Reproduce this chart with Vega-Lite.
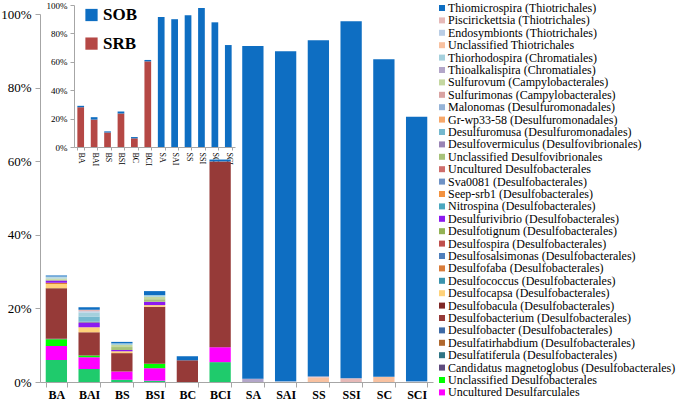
{
  "$schema": "https://vega.github.io/schema/vega-lite/v6.json",
  "width": 393,
  "height": 368,
  "autosize": {"type": "none"},
  "padding": {"left": 40, "top": 14, "right": 252, "bottom": 21},
  "background": "white",
  "config": {
    "font": "Liberation Serif",
    "view": {"stroke": null},
    "axis": {"grid": false, "domainColor": "#A6A6A6", "tickColor": "#A6A6A6", "labelColor": "#000000", "labelFont": "Liberation Serif", "title": null},
    "legend": {"labelFont": "Liberation Serif", "symbolLimit": 50}
  },
  "datasets": {
    "main": [
      {"s": "BA", "t": "Other taxa", "o": 33, "v": 6.0},
      {"s": "BA", "t": "Uncultured Desulfarculales", "o": 32, "v": 3.8},
      {"s": "BA", "t": "Unclassified Desulfobacterales", "o": 31, "v": 1.8},
      {"s": "BA", "t": "Candidatus magnetoglobus (Desulfobacterales)", "o": 30, "v": 0.15},
      {"s": "BA", "t": "Desulfobacterium (Desulfobacterales)", "o": 26, "v": 13.5},
      {"s": "BA", "t": "Desulfobacula (Desulfobacterales)", "o": 25, "v": 0.2},
      {"s": "BA", "t": "Desulfocapsa (Desulfobacterales)", "o": 24, "v": 1.2},
      {"s": "BA", "t": "Desulfofaba (Desulfobacterales)", "o": 22, "v": 0.3},
      {"s": "BA", "t": "Desulfurivibrio (Desulfobacterales)", "o": 18, "v": 0.6},
      {"s": "BA", "t": "Unclassified Desulfovibrionales", "o": 13, "v": 0.3},
      {"s": "BA", "t": "Sulfurovum (Campylobacterales)", "o": 7, "v": 0.3},
      {"s": "BA", "t": "Thiorhodospira (Chromatiales)", "o": 5, "v": 0.3},
      {"s": "BA", "t": "Endosymbionts (Thiotrichales)", "o": 3, "v": 0.2},
      {"s": "BA", "t": "Thiomicrospira (Thiotrichales)", "o": 1, "v": 0.3},
      {"s": "BAI", "t": "Other taxa", "o": 33, "v": 3.5},
      {"s": "BAI", "t": "Uncultured Desulfarculales", "o": 32, "v": 3.2},
      {"s": "BAI", "t": "Unclassified Desulfobacterales", "o": 31, "v": 0.5},
      {"s": "BAI", "t": "Desulfobacterium (Desulfobacterales)", "o": 26, "v": 6.3},
      {"s": "BAI", "t": "Desulfocapsa (Desulfobacterales)", "o": 24, "v": 1.4},
      {"s": "BAI", "t": "Desulfurivibrio (Desulfobacterales)", "o": 18, "v": 1.1},
      {"s": "BAI", "t": "Desulfovermiculus (Desulfovibrionales)", "o": 12, "v": 0.4},
      {"s": "BAI", "t": "Desulfuromusa (Desulfuromonadales)", "o": 11, "v": 1.4},
      {"s": "BAI", "t": "Thiorhodospira (Chromatiales)", "o": 5, "v": 1.1},
      {"s": "BAI", "t": "Endosymbionts (Thiotrichales)", "o": 3, "v": 0.3},
      {"s": "BAI", "t": "Piscirickettsia (Thiotrichales)", "o": 2, "v": 0.4},
      {"s": "BAI", "t": "Thiomicrospira (Thiotrichales)", "o": 1, "v": 0.7},
      {"s": "BS", "t": "Other taxa", "o": 33, "v": 0.6},
      {"s": "BS", "t": "Uncultured Desulfarculales", "o": 32, "v": 2.25},
      {"s": "BS", "t": "Desulfobacterium (Desulfobacterales)", "o": 26, "v": 5.0},
      {"s": "BS", "t": "Desulfocapsa (Desulfobacterales)", "o": 24, "v": 0.5},
      {"s": "BS", "t": "Desulfurivibrio (Desulfobacterales)", "o": 18, "v": 0.35},
      {"s": "BS", "t": "Unclassified Desulfovibrionales", "o": 13, "v": 0.8},
      {"s": "BS", "t": "Sulfurovum (Campylobacterales)", "o": 7, "v": 0.55},
      {"s": "BS", "t": "Thiorhodospira (Chromatiales)", "o": 5, "v": 0.45},
      {"s": "BS", "t": "Thiomicrospira (Thiotrichales)", "o": 1, "v": 0.4},
      {"s": "BSI", "t": "Other taxa", "o": 33, "v": 0.35},
      {"s": "BSI", "t": "Uncultured Desulfarculales", "o": 32, "v": 3.4},
      {"s": "BSI", "t": "Unclassified Desulfobacterales", "o": 31, "v": 1.2},
      {"s": "BSI", "t": "Desulfobacterium (Desulfobacterales)", "o": 26, "v": 15.5},
      {"s": "BSI", "t": "Desulfocapsa (Desulfobacterales)", "o": 24, "v": 0.45},
      {"s": "BSI", "t": "Desulfurivibrio (Desulfobacterales)", "o": 18, "v": 0.9},
      {"s": "BSI", "t": "Unclassified Desulfovibrionales", "o": 13, "v": 0.7},
      {"s": "BSI", "t": "Sulfurovum (Campylobacterales)", "o": 7, "v": 0.65},
      {"s": "BSI", "t": "Thiorhodospira (Chromatiales)", "o": 5, "v": 0.45},
      {"s": "BSI", "t": "Thiomicrospira (Thiotrichales)", "o": 1, "v": 1.1},
      {"s": "BC", "t": "Desulfobacterium (Desulfobacterales)", "o": 26, "v": 5.9},
      {"s": "BC", "t": "Thiomicrospira (Thiotrichales)", "o": 1, "v": 1.1},
      {"s": "BCI", "t": "Other taxa", "o": 33, "v": 5.4},
      {"s": "BCI", "t": "Uncultured Desulfarculales", "o": 32, "v": 4.05},
      {"s": "BCI", "t": "Desulfobacterium (Desulfobacterales)", "o": 26, "v": 50.5},
      {"s": "BCI", "t": "Thiomicrospira (Thiotrichales)", "o": 1, "v": 0.5},
      {"s": "SA", "t": "Thioalkalispira (Chromatiales)", "o": 6, "v": 0.9},
      {"s": "SA", "t": "Thiomicrospira (Thiotrichales)", "o": 1, "v": 90.4},
      {"s": "SAI", "t": "Endosymbionts (Thiotrichales)", "o": 3, "v": 0.2},
      {"s": "SAI", "t": "Thiomicrospira (Thiotrichales)", "o": 1, "v": 89.7},
      {"s": "SS", "t": "Unclassified Thiotrichales", "o": 4, "v": 1.2},
      {"s": "SS", "t": "Piscirickettsia (Thiotrichales)", "o": 2, "v": 0.3},
      {"s": "SS", "t": "Thiomicrospira (Thiotrichales)", "o": 1, "v": 91.4},
      {"s": "SSI", "t": "Piscirickettsia (Thiotrichales)", "o": 2, "v": 1.0},
      {"s": "SSI", "t": "Thiomicrospira (Thiotrichales)", "o": 1, "v": 97.0},
      {"s": "SC", "t": "Unclassified Thiotrichales", "o": 4, "v": 1.4},
      {"s": "SC", "t": "Thiomicrospira (Thiotrichales)", "o": 1, "v": 86.3},
      {"s": "SCI", "t": "Endosymbionts (Thiotrichales)", "o": 3, "v": 0.2},
      {"s": "SCI", "t": "Thiomicrospira (Thiotrichales)", "o": 1, "v": 71.9}
    ],
    "inset": [
      {"s": "BA", "g": "SRB", "v": 28.0},
      {"s": "BA", "g": "SOB", "v": 1.0},
      {"s": "BAI", "g": "SRB", "v": 19.3},
      {"s": "BAI", "g": "SOB", "v": 1.7},
      {"s": "BS", "g": "SRB", "v": 10.2},
      {"s": "BS", "g": "SOB", "v": 0.8},
      {"s": "BSI", "g": "SRB", "v": 23.6},
      {"s": "BSI", "g": "SOB", "v": 1.4},
      {"s": "BC", "g": "SRB", "v": 6.1},
      {"s": "BC", "g": "SOB", "v": 0.9},
      {"s": "BCI", "g": "SRB", "v": 60.3},
      {"s": "BCI", "g": "SOB", "v": 1.0},
      {"s": "SA", "g": "SOB", "v": 91.5},
      {"s": "SAI", "g": "SOB", "v": 90.0},
      {"s": "SS", "g": "SOB", "v": 92.7},
      {"s": "SSI", "g": "SOB", "v": 97.9},
      {"s": "SC", "g": "SOB", "v": 87.8},
      {"s": "SCI", "g": "SOB", "v": 71.8}
    ]
  },
  "layer": [
    {
      "data": {"name": "main"},
      "mark": {"type": "bar"},
      "encoding": {
        "x": {
          "field": "s", "type": "nominal",
          "sort": ["BA", "BAI", "BS", "BSI", "BC", "BCI", "SA", "SAI", "SS", "SSI", "SC", "SCI"],
          "scale": {"paddingInner": 0.35, "paddingOuter": 0.175},
          "axis": {"orient": "bottom", "labelAngle": 0, "labelFontSize": 12, "labelFontWeight": "bold", "tickSize": 5, "tickBand": "extent", "labelPadding": 2}
        },
        "y": {
          "field": "v", "type": "quantitative", "stack": "zero",
          "scale": {"domain": [0, 100]},
          "axis": {"orient": "left", "values": [0, 20, 40, 60, 80, 100], "labelExpr": "datum.value + '%'", "labelFontSize": 13, "tickSize": 5, "labelPadding": 4}
        },
        "order": {"field": "o", "type": "quantitative", "sort": "descending"},
        "color": {
          "field": "t", "type": "nominal",
          "scale": {
            "domain": ["Thiomicrospira (Thiotrichales)", "Piscirickettsia (Thiotrichales)", "Endosymbionts (Thiotrichales)", "Unclassified Thiotrichales", "Thiorhodospira (Chromatiales)", "Thioalkalispira (Chromatiales)", "Sulfurovum (Campylobacterales)", "Sulfurimonas (Campylobacterales)", "Malonomas (Desulfuromonadales)", "Gr-wp33-58 (Desulfuromonadales)", "Desulfuromusa (Desulfuromonadales)", "Desulfovermiculus (Desulfovibrionales)", "Unclassified Desulfovibrionales", "Uncultured Desulfobacterales", "Sva0081 (Desulfobacterales)", "Seep-srb1 (Desulfobacterales)", "Nitrospina (Desulfobacterales)", "Desulfurivibrio (Desulfobacterales)", "Desulfotignum (Desulfobacterales)", "Desulfospira (Desulfobacterales)", "Desulfosalsimonas (Desulfobacterales)", "Desulfofaba (Desulfobacterales)", "Desulfococcus (Desulfobacterales)", "Desulfocapsa (Desulfobacterales)", "Desulfobacula (Desulfobacterales)", "Desulfobacterium (Desulfobacterales)", "Desulfobacter (Desulfobacterales)", "Desulfatirhabdium (Desulfobacterales)", "Desulfatiferula (Desulfobacterales)", "Candidatus magnetoglobus (Desulfobacterales)", "Unclassified Desulfobacterales", "Uncultured Desulfarculales", "Other taxa"],
            "range": ["#0E6EC2", "#E6B9B8", "#B9CDE5", "#F8C1A0", "#A5D0DD", "#B3A6C9", "#C4D7A0", "#D9A3A2", "#95B3D7", "#F7A86A", "#74B8CE", "#9984B5", "#A7C27A", "#CF6E6C", "#6E92C5", "#F3923F", "#4AA7BF", "#8C1AF0", "#93B254", "#C0504D", "#4F7FBC", "#D97C3A", "#3A93AD", "#FFD27A", "#7F2826", "#963A38", "#3D6AA6", "#B0682E", "#2F7585", "#5E4B7E", "#00FF00", "#FF00FF", "#1FCB6C"]
          },
          "legend": {
            "title": null, "orient": "none", "legendX": 396, "legendY": -12, "padding": 0,
            "symbolType": "square", "symbolSize": 36, "symbolStrokeWidth": 0, "symbolLimit": 50,
            "labelFontSize": 12, "labelFont": "Liberation Serif", "labelColor": "#000000", "labelLimit": 400, "labelOffset": 0, "rowPadding": 0.4,
            "values": ["Thiomicrospira (Thiotrichales)", "Piscirickettsia (Thiotrichales)", "Endosymbionts (Thiotrichales)", "Unclassified Thiotrichales", "Thiorhodospira (Chromatiales)", "Thioalkalispira (Chromatiales)", "Sulfurovum (Campylobacterales)", "Sulfurimonas (Campylobacterales)", "Malonomas (Desulfuromonadales)", "Gr-wp33-58 (Desulfuromonadales)", "Desulfuromusa (Desulfuromonadales)", "Desulfovermiculus (Desulfovibrionales)", "Unclassified Desulfovibrionales", "Uncultured Desulfobacterales", "Sva0081 (Desulfobacterales)", "Seep-srb1 (Desulfobacterales)", "Nitrospina (Desulfobacterales)", "Desulfurivibrio (Desulfobacterales)", "Desulfotignum (Desulfobacterales)", "Desulfospira (Desulfobacterales)", "Desulfosalsimonas (Desulfobacterales)", "Desulfofaba (Desulfobacterales)", "Desulfococcus (Desulfobacterales)", "Desulfocapsa (Desulfobacterales)", "Desulfobacula (Desulfobacterales)", "Desulfobacterium (Desulfobacterales)", "Desulfobacter (Desulfobacterales)", "Desulfatirhabdium (Desulfobacterales)", "Desulfatiferula (Desulfobacterales)", "Candidatus magnetoglobus (Desulfobacterales)", "Unclassified Desulfobacterales", "Uncultured Desulfarculales"]
          }
        }
      }
    },
    {
      "data": {"name": "inset"},
      "mark": {"type": "bar"},
      "encoding": {
        "x": {
          "field": "s", "type": "nominal",
          "sort": ["BA", "BAI", "BS", "BSI", "BC", "BCI", "SA", "SAI", "SS", "SSI", "SC", "SCI"],
          "scale": {"range": [34, 195], "paddingInner": 0.5, "paddingOuter": 0.25},
          "axis": {"orient": "bottom", "offset": -235, "labelAngle": 90, "labelFontSize": 8, "tickSize": 3, "tickBand": "extent", "labelPadding": 2}
        },
        "y": {
          "field": "v", "type": "quantitative", "stack": "zero",
          "scale": {"domain": [0, 100], "range": [133, -9]},
          "axis": {"orient": "left", "offset": -34, "values": [0, 20, 40, 60, 80, 100], "labelExpr": "datum.value + '%'", "labelFontSize": 9, "tickSize": 4, "labelPadding": 3}
        },
        "color": {
          "field": "g", "type": "nominal",
          "scale": {"domain": ["SOB", "SRB"], "range": ["#0E6EC2", "#B54845"]},
          "legend": {
            "title": null, "orient": "none", "legendX": 43, "legendY": -7.5, "padding": 0,
            "symbolType": "square", "symbolSize": 150, "symbolStrokeWidth": 0,
            "labelFontSize": 17, "labelFontWeight": "bold", "labelFont": "Liberation Serif", "labelColor": "#000000", "labelOffset": 3, "rowPadding": 10.6
          }
        }
      }
    }
  ],
  "resolve": {
    "scale": {"x": "independent", "y": "independent", "color": "independent"},
    "axis": {"x": "independent", "y": "independent"},
    "legend": {"color": "independent"}
  }
}
